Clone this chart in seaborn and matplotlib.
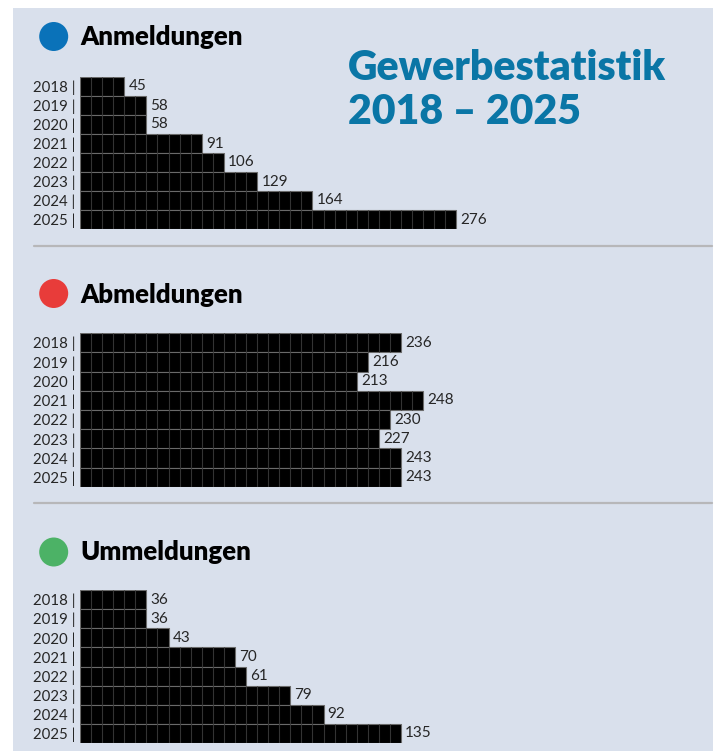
import matplotlib
matplotlib.use("Agg")
import matplotlib.pyplot as plt
from matplotlib.patches import Ellipse, Rectangle
from matplotlib.lines import Line2D
import seaborn as sns

years = [2018, 2019, 2020, 2021, 2022, 2023, 2024, 2025]

anmeldungen = [45, 58, 58, 91, 106, 129, 164, 276]
abmeldungen = [236, 216, 213, 248, 230, 227, 243, 243]
ummeldungen = [36, 36, 43, 70, 61, 79, 92, 135]

# number of blocks each bar shows in the original (not strictly proportional)
anm_blocks = [4, 6, 6, 11, 13, 16, 21, 34]
abm_blocks = [29, 26, 25, 31, 28, 27, 29, 29]
umm_blocks = [6, 6, 8, 14, 15, 19, 22, 29]

sections = ["Anmeldungen", "Abmeldungen", "Ummeldungen"]
dot_colors = ["#0a72b9", "#e83c3a", "#4cb266"]
title_lines = ["Gewerbestatistik", "2018 \u2013 2025"]

sns.set_style("white")
plt.rcParams["font.family"] = ["Lato", "DejaVu Sans"]

W, H = 720, 751
fig = plt.figure(figsize=(W / 100, H / 100), dpi=100)
fig.patch.set_facecolor("white")


def fx(px):
    return px / W


def fy(py):
    return 1 - py / H


# light panel
fig.add_artist(Rectangle((fx(13), fy(751)), fx(713) - fx(13), fy(8) - fy(751),
                         transform=fig.transFigure, facecolor="#d9e0ec",
                         edgecolor="none", zorder=0))

# separators
for yy in [246, 503]:
    fig.add_artist(Line2D([fx(34), fx(712)], [fy(yy), fy(yy)], transform=fig.transFigure,
                          color="#b7b7b9", lw=1.6, zorder=1))

# title
fig.text(fx(348), fy(80), title_lines[0], color="#0a76a6", fontsize=29.5,
         fontweight="heavy", va="baseline", ha="left")
fig.text(fx(348), fy(124), title_lines[1], color="#0a76a6", fontsize=29.5,
         fontweight="heavy", va="baseline", ha="left")

block_px = 11.07
ax_left, ax_w = 80, 620
layout = [
    # dot center y, heading baseline, top of bars, bottom of bars
    (36.5, 45, 77, 229),
    (293.5, 303, 333, 487),
    (552, 560, 590, 743),
]
values = [anmeldungen, abmeldungen, ummeldungen]
blocks = [anm_blocks, abm_blocks, umm_blocks]
labels = [f"{y} |" for y in years]

for name, col, (cy, base, top, bot), vals, blk in zip(sections, dot_colors, layout, values, blocks):
    fig.add_artist(Ellipse((fx(53.7), fy(cy)), 29 / W, 29 / H, transform=fig.transFigure,
                           facecolor=col, edgecolor="none", zorder=2))
    fig.text(fx(80), fy(base), name, fontsize=18.5, fontweight="heavy", color="black",
             va="baseline", ha="left")

    ax = fig.add_axes([fx(ax_left), fy(bot), ax_w / W, (bot - top) / H])
    ax.set_facecolor("none")
    sns.barplot(x=blk, y=labels, orient="h", color="black", width=1.0,
                edgecolor="#6a6a6a", linewidth=0.8, saturation=1, ax=ax)
    # block dividers inside each bar
    for i, n in enumerate(blk):
        ax.vlines(range(1, n), i - 0.5, i + 0.5, color="#333333", lw=0.8, zorder=3)
    ax.bar_label(ax.containers[0], labels=[str(v) for v in vals], padding=3, fontsize=11)
    ax.set_xlim(0, ax_w / block_px)
    ax.set_ylim(7.5, -0.5)
    ax.set_xticks([])
    ax.set_xlabel("")
    ax.set_ylabel("")
    ax.tick_params(axis="y", length=0, pad=3.5, labelsize=10.8)
    sns.despine(ax=ax, left=True, bottom=True)

fig.savefig("out.png", dpi=100)
